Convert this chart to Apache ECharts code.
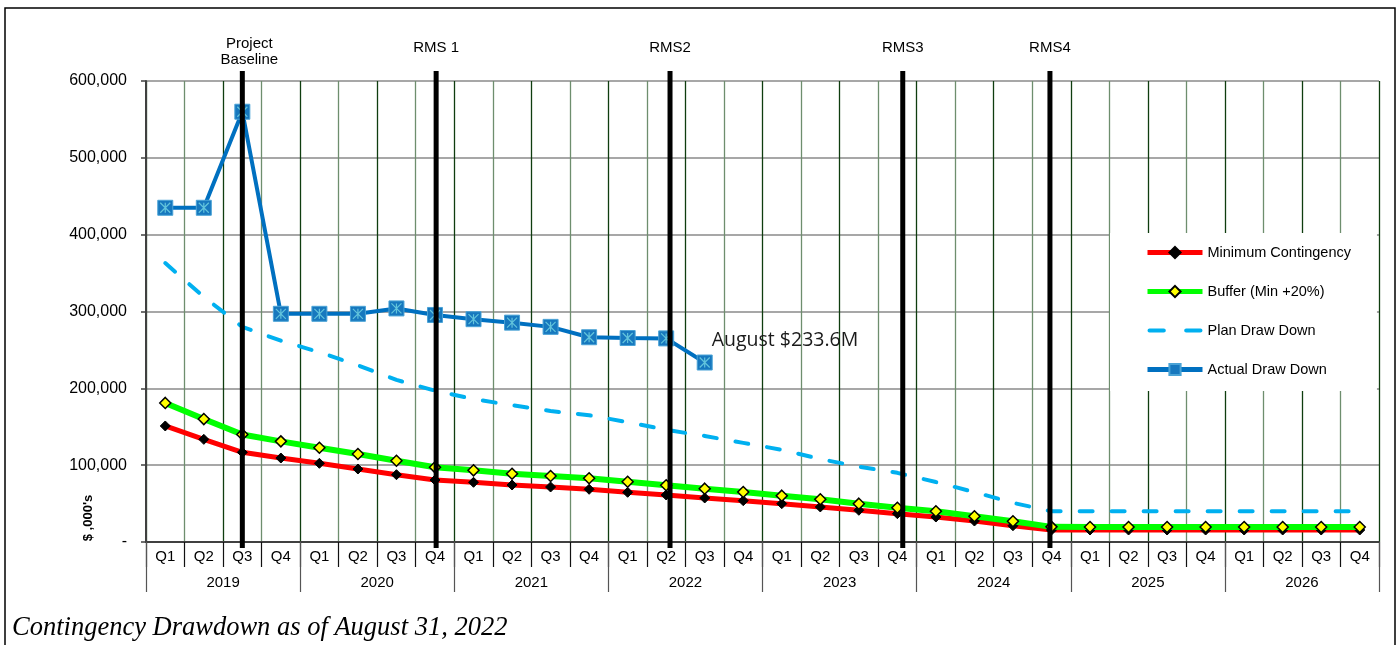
<!DOCTYPE html>
<html>
<head>
<meta charset="utf-8">
<script src="https://cdn.jsdelivr.net/npm/echarts@6/dist/echarts.min.js"></script>
<style>
html,body{margin:0;padding:0;background:#fff;}
#chart{width:1398px;height:645px;}
</style>
</head>
<body>
<div id="chart"></div>
<script>
// ---- Data ----
const years = ['2019', '2020', '2021', '2022', '2023', '2024', '2025', '2026'];
const quarterNames = ['Q1', 'Q2', 'Q3', 'Q4'];
const quarterLabels = years.flatMap(() => quarterNames);

const yTicks = [0, 100000, 200000, 300000, 400000, 500000, 600000];

const minContingency = [151000, 133600, 116700, 109300, 102400, 95000, 87600, 80700,
  77700, 74200, 71600, 68600, 64700, 61200, 57300, 53800,
  49900, 45600, 41300, 36900, 32500, 27300, 21200, 15600,
  15600, 15600, 15600, 15600, 15600, 15600, 15600, 15600];

const bufferMin20 = [181000, 160000, 140000, 131000, 122700, 114500, 105800, 97200,
  93300, 88900, 85900, 82900, 78500, 73800, 69400, 65100,
  60300, 55600, 49900, 44600, 40000, 33500, 26900, 19700,
  19500, 19500, 19500, 19500, 19500, 19500, 19500, 19500];

const planDrawDown = [363000, 319000, 280000, 262000, 247000, 230000, 211000, 197000,
  186000, 178000, 170500, 165000, 156000, 146000, 138000, 129000,
  120000, 108000, 98000, 90000, 78000, 65000, 51000, 40000,
  40000, 40000, 40000, 40000, 40000, 40000, 40000, 40000];

const actualDrawDown = [435000, 435000, 560000, 297000, 297000, 297000, 304000, 295500,
  290000, 285500, 280000, 266500, 265500, 265000, 233600, null,
  null, null, null, null, null, null, null, null,
  null, null, null, null, null, null, null, null];

const seriesNames = ['Minimum Contingency', 'Buffer (Min +20%)', 'Plan Draw Down', 'Actual Draw Down'];

const milestoneNames = ['Project\nBaseline', 'RMS 1', 'RMS2', 'RMS3', 'RMS4'];
const milestonePos = [2.0, 7.03, 13.1, 19.14, 22.96]; // in quarter-index units

const annotationText = 'August $233.6M';
const captionText = 'Contingency Drawdown as of August 31, 2022';
const yAxisTitle = "$ ,000's";

// ---- Chart ----
const FONT = '"Liberation Sans", Arial, sans-serif';
const chart = echarts.init(document.getElementById('chart'), null, {renderer: 'canvas'});

let lastActual = 0;
actualDrawDown.forEach((v, i) => { if (v != null) lastActual = i; });
const actualData = actualDrawDown.map((v, i) => i === lastActual ? {
  value: v,
  label: {
    show: true, position: 'right', offset: [-6, -22],
    formatter: annotationText,
    fontFamily: '"Open Sans", sans-serif', fontSize: 19.5, color: '#1a1a1a'
  }
} : v);

const option = {
  animation: false,
  backgroundColor: '#fff',
  grid: {left: 146, right: 19, top: 81, bottom: 103, containLabel: false},
  legend: {
    data: [
      {name: seriesNames[0], lineStyle: {width: 5}},
      {name: seriesNames[1], lineStyle: {width: 5}},
      {name: seriesNames[2], icon: 'path://M2,0H16A2,2 0 0 1 16,4H2A2,2 0 0 1 2,0Z M38,0H52A2,2 0 0 1 52,4H38A2,2 0 0 1 38,0Z',
       itemStyle: {color: '#00b0f0'}},
      {name: seriesNames[3], lineStyle: {width: 5}}
    ],
    orient: 'vertical',
    left: 1110, top: 233,
    padding: [12, 26, 14, 35],
    itemGap: 24,
    itemWidth: 55, itemHeight: 14,
    backgroundColor: '#fff',
    textStyle: {fontFamily: FONT, fontSize: 14.5, color: '#000'}
  },
  xAxis: [
    {
      type: 'category', data: quarterLabels, position: 'bottom', boundaryGap: true,
      axisLine: {show: true, onZero: false, lineStyle: {color: '#404040', width: 2}},
      axisTick: {show: true, interval: 0, length: 25, lineStyle: {color: '#111', width: 1.2}},
      axisLabel: {interval: 0, margin: 7, fontFamily: FONT, fontSize: 15, color: '#000'},
      splitLine: {show: true, interval: 0, lineStyle: {color: ['#0f3d0f', '#6e8e6e'], width: 1.3}}
    },
    {
      type: 'category', data: years, position: 'bottom', boundaryGap: true,
      axisLine: {show: false, onZero: false},
      axisTick: {show: true, interval: 0, length: 50, lineStyle: {color: '#555', width: 1.2}},
      axisLabel: {interval: 0, margin: 33, fontFamily: FONT, fontSize: 15, color: '#000'},
      splitLine: {show: false}
    },
    {
      type: 'value', min: -0.5, max: quarterLabels.length - 0.5, show: false, position: 'top',
      axisLine: {onZero: false}
    }
  ],
  yAxis: {
    type: 'value', min: yTicks[0], max: yTicks[yTicks.length - 1], interval: yTicks[1] - yTicks[0],
    axisLine: {show: true, onZero: false, lineStyle: {color: '#404040', width: 2}},
    axisTick: {show: true, length: 5, lineStyle: {color: '#404040', width: 1.5}},
    axisLabel: {
      margin: 19, fontFamily: FONT, fontSize: 16, color: '#000',
      formatter: v => v === 0 ? '-' : v.toLocaleString('en-US')
    },
    splitLine: {show: true, lineStyle: {color: '#8a8a8a', width: 1.5}}
  },
  series: [
    {
      name: seriesNames[0], type: 'line', data: minContingency, z: 3,
      lineStyle: {color: '#ff0000', width: 5},
      itemStyle: {color: '#000', borderColor: '#000', borderWidth: 1},
      symbol: 'diamond', symbolSize: 10, showAllSymbol: true
    },
    {
      name: seriesNames[1], type: 'line', data: bufferMin20, z: 4,
      lineStyle: {color: '#00ff00', width: 6},
      itemStyle: {color: '#ffff00', borderColor: '#000', borderWidth: 1.5},
      symbol: 'diamond', symbolSize: 11, showAllSymbol: true
    },
    {
      name: seriesNames[2], type: 'line', data: planDrawDown, z: 5,
      lineStyle: {color: '#00b0f0', width: 4, type: [13, 19], cap: 'round'},
      itemStyle: {color: '#00b0f0'},
      symbol: 'none'
    },
    {
      name: seriesNames[3], type: 'line', data: actualData, z: 6,
      lineStyle: {color: '#0070c0', width: 4},
      itemStyle: {color: '#1778be', borderColor: '#4aa3d6', borderWidth: 1},
      symbol: 'rect', symbolSize: 15, showAllSymbol: true
    },
    {
      name: 'actual-marker-cross', type: 'line', data: actualDrawDown, z: 7, silent: true,
      lineStyle: {opacity: 0, width: 0},
      itemStyle: {color: 'transparent', borderColor: '#62c4dc', borderWidth: 1.2},
      symbol: 'path://M0,0L10,10M10,0L0,10M5,0L5,10', symbolSize: 10, showAllSymbol: true
    },
    {
      name: 'milestones', type: 'custom', xAxisIndex: 2, yAxisIndex: 0, clip: false, silent: true, z: 10,
      data: milestonePos.map((p, i) => [p, i]),
      renderItem: function (params, api) {
        const x = api.coord([api.value(0), 0])[0];
        const cs = params.coordSys;
        const top = cs.y, bottom = cs.y + cs.height;
        const label = milestoneNames[api.value(1)];
        const twoLines = label.indexOf('\n') >= 0;
        return {
          type: 'group',
          children: [
            {type: 'line', shape: {x1: x, y1: top - 10, x2: x, y2: bottom + 6},
             style: {stroke: '#000', lineWidth: 5}},
            {type: 'text', x: x + (twoLines ? 7 : 0), y: top - (twoLines ? 29 : 33),
             style: {text: label, align: 'center', verticalAlign: 'middle',
                     fontFamily: FONT, fontSize: 15, lineHeight: 16, fill: '#000'}}
          ]
        };
      }
    }
  ],
  graphic: [
    {type: 'rect', silent: true, z: -1, shape: {x: 5, y: 8, width: 1390, height: 700},
     style: {fill: 'none', stroke: '#000', lineWidth: 1.5}},
    {type: 'text', silent: true, x: 88, y: 518, rotation: Math.PI / 2,
     style: {text: yAxisTitle, align: 'center', verticalAlign: 'middle',
             fontFamily: FONT, fontWeight: 'bold', fontSize: 13, fill: '#000'}},
    {type: 'text', silent: true, x: 12, y: 628,
     style: {text: captionText, align: 'left', verticalAlign: 'middle',
             fontFamily: '"Liberation Serif", "Times New Roman", serif', fontStyle: 'italic',
             fontSize: 26.5, fill: '#000'}}
  ]
};
chart.setOption(option);
</script>
</body>
</html>
